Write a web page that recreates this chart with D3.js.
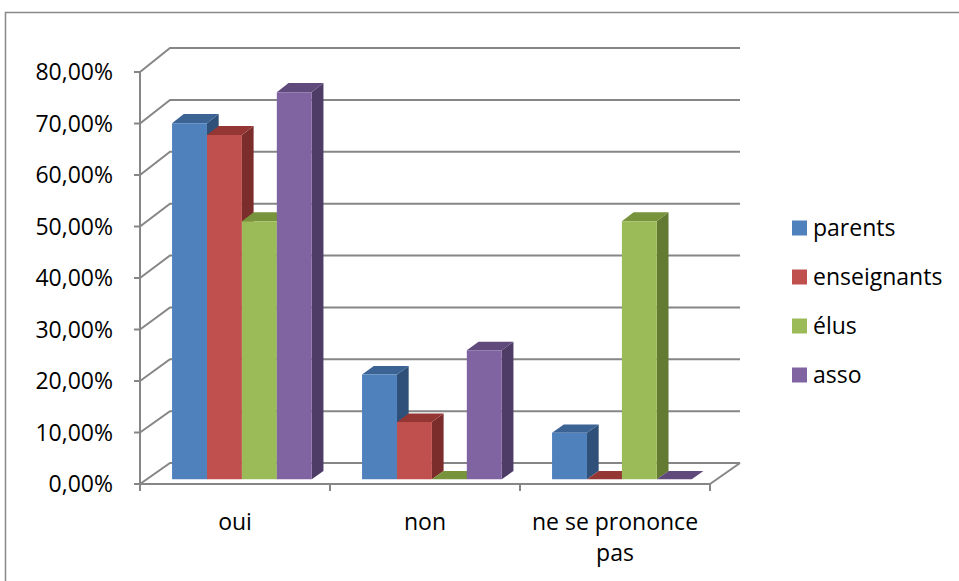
<!DOCTYPE html>
<html>
<head>
<meta charset="utf-8">
<script src="https://cdn.jsdelivr.net/npm/d3@7"></script>
<style>
  body { margin: 0; background: #fff; }
  text { font-family: "Open Sans", "Liberation Sans", sans-serif; fill: #000; }
</style>
</head>
<body>
<div id="chart"></div>
<script>
// Chart data
const categories = ["oui", "non", "ne se prononce pas"];
const series = ["parents", "enseignants", "élus", "asso"];
const parents = [0.69, 0.203, 0.09];
const enseignants = [0.667, 0.111, 0];
const elus = [0.5, 0, 0.5];
const asso = [0.75, 0.25, 0];
const yTicks = [0, 0.1, 0.2, 0.3, 0.4, 0.5, 0.6, 0.7, 0.8];

const values = [parents, enseignants, elus, asso];
const frontColors = ["#4f81bd", "#c0504d", "#9bbb59", "#8064a2"];
const topColors = ["#3b6394", "#943634", "#77933c", "#5f4a7b"];
const sideColors = ["#2f5179", "#7b2d2b", "#637a33", "#4e3c66"];

const width = 959, height = 581;
const svg = d3.select("#chart").append("svg")
    .attr("width", width)
    .attr("height", height);

// outer frame (partly cut by the window)
svg.append("path")
    .attr("d", "M5.5,581 L5.5,12.5 L959,12.5")
    .attr("fill", "none")
    .attr("stroke", "#888")
    .attr("stroke-width", 1.5);

// fake 3d: front plane scale and back wall scale
const DX = 30;
const yFront = d3.scaleLinear().domain([0, 0.8]).range([484, 72]);
const yBack = d3.scaleLinear().domain([0, 0.8]).range([463, 48]);
const x0 = d3.scaleBand().domain(categories).range([140, 710]);
const x1 = d3.scaleBand().domain(series).range([0, x0.bandwidth()]).paddingOuter(0.72);

function P(x, v, t) {
    return [x + DX * t, yFront(v) * (1 - t) + yBack(v) * t];
}

const grid = svg.append("g")
    .attr("fill", "none")
    .attr("stroke", "#868686")
    .attr("stroke-width", 2);

// back wall lines + side wall diagonals
yTicks.forEach(v => {
    const a = P(140, v, 0), b = P(140, v, 1), c = P(710, v, 1);
    grid.append("path").attr("d", `M${a}L${b}L${c}`);
});
// floor right edge
grid.append("path").attr("d", `M${P(710, 0, 1)}L${P(710, 0, 0)}`);
// value axis + category axis
grid.append("path").attr("d", `M140,${yFront(0.8)}V${yFront(0)}H710`);
yTicks.forEach(v => {
    grid.append("path").attr("d", `M134,${yFront(v)}H140`);
});
[140, ...categories.map(c => x0(c) + x0.bandwidth())].forEach(x => {
    grid.append("path").attr("d", `M${x},${yFront(0)}v7`);
});

const fs = "23px";

// tick labels
svg.append("g")
    .selectAll("text")
    .data(yTicks)
    .join("text")
    .attr("x", 113)
    .attr("y", d => yFront(d))
    .attr("dy", "0.36em")
    .attr("text-anchor", "end")
    .style("font-size", fs)
    .text(d => (d * 100).toFixed(2).replace(".", ",") + "%");

// category labels (last one wraps)
const catLines = [["oui"], ["non"], ["ne se prononce", "pas"]];
categories.forEach((c, i) => {
    const t = svg.append("text")
        .attr("x", x0(c) + x0.bandwidth() / 2)
        .attr("y", 530)
        .attr("text-anchor", "middle")
        .style("font-size", fs);
    catLines[i].forEach((line, j) => {
        t.append("tspan")
            .attr("x", x0(c) + x0.bandwidth() / 2)
            .attr("dy", j === 0 ? 0 : 31)
            .text(line);
    });
});

// bars, drawn left to right so the next front face hides the previous side
const t0 = 0.23, t1 = 0.62;
const bars = svg.append("g");
const poly = pts => pts.map(p => p.join(",")).join(" ");
categories.forEach((c, ci) => {
    series.forEach((s, si) => {
        const v = values[si][ci];
        const xl = x0(c) + x1(s), xr = xl + x1.bandwidth();
        // side
        bars.append("polygon")
            .attr("points", poly([P(xr, 0, t0), P(xr, 0, t1), P(xr, v, t1), P(xr, v, t0)]))
            .attr("fill", sideColors[si]);
        // top
        bars.append("polygon")
            .attr("points", poly([P(xl, v, t0), P(xl, v, t1), P(xr, v, t1), P(xr, v, t0)]))
            .attr("fill", topColors[si]);
        // front
        if (v > 0) {
            bars.append("polygon")
                .attr("points", poly([P(xl, 0, t0), P(xr, 0, t0), P(xr, v, t0), P(xl, v, t0)]))
                .attr("fill", frontColors[si]);
        }
    });
});

// legend
const legend = svg.append("g")
    .selectAll("g")
    .data(series)
    .join("g")
    .attr("transform", (d, i) => `translate(792,${228 + i * 49})`);
legend.append("rect")
    .attr("x", 0).attr("y", -7.5)
    .attr("width", 15).attr("height", 15)
    .attr("fill", (d, i) => frontColors[i]);
legend.append("text")
    .attr("x", 21)
    .attr("dy", "0.36em")
    .style("font-size", fs)
    .text(d => d);
</script>
</body>
</html>
